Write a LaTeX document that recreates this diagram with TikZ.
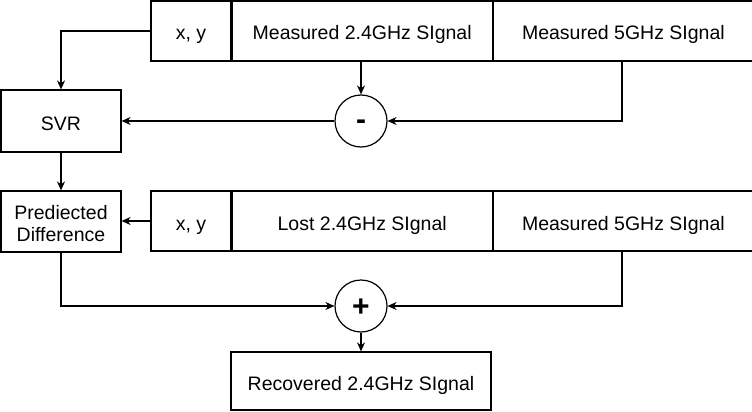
\documentclass[tikz,border=0pt]{standalone}
\usepackage{fontspec}
\setmainfont{Liberation Sans}
\usepackage{tikz}
\usetikzlibrary{positioning, arrows.meta}

\begin{document}
\begin{tikzpicture}[x=1pt, y=-1pt]
  \tikzstyle{block}=[draw, line width=1.2pt, minimum height=60pt, inner sep=0pt, align=center,
  text height=18pt, text depth=0pt]
  \tikzstyle{field}=[block, minimum width=260pt]
  \tikzstyle{coord}=[block, minimum width=80pt]
  \tikzstyle{op}=[circle, draw, line width=1.2pt, minimum size=52pt, inner sep=0pt,
  text height=0pt, text depth=0pt, font=\fontsize{30}{30}\selectfont\bfseries]
  \tikzstyle{flow}=[-{Stealth[length=9pt, width=8pt]}, line width=1.2pt]

  \useasboundingbox (0,0) rectangle (752,412);

  \begin{scope}[font=\fontsize{19.5}{22.5}\selectfont]
    % measured row
    \node (xy1) at (191,31) [coord] {x, y};
    \node (meas24) [field, right=0pt of xy1] {Measured 2.4GHz SIgnal};
    \node (meas5) [field, right=0pt of meas24] {Measured 5GHz SIgnal};

    \node (svr) at (61,121) [block, minimum width=120pt, minimum height=62pt] {SVR};
    \node (minus) at (361,121) [op] {\raisebox{-0.28em}{-}};

    % lost row
    \node (xy2) at (191,221) [coord] {x, y};
    \node (lost) [field, right=0pt of xy2] {Lost 2.4GHz SIgnal};
    \node (meas5b) [field, right=0pt of lost] {Measured 5GHz SIgnal};

    \node (diff) at (61,221.5) [block, minimum width=120pt, minimum height=61pt,
    text height=40.5pt] {Prediected\\Difference};
    \node (plus) at (361,306) [op] {\raisebox{-0.35em}{+}};
    \node (rec) at (361,381) [field, minimum height=58pt] {Recovered 2.4GHz SIgnal};
  \end{scope}

  \draw[flow] (xy1.west) -| (svr.north);
  \draw[flow] (meas24.south -| minus) -- (minus.north);
  \draw[flow] (meas5.south -| 622,0) |- (minus.east);
  \draw[flow] (minus.west) -- (svr.east);
  \draw[flow] (svr.south) -- (diff.north);
  \draw[flow] (xy2.west) -- (xy2.west -| diff.east);
  \draw[flow] (diff.south) |- (plus.west);
  \draw[flow] (meas5b.south -| 622,0) |- (plus.east);
  \draw[flow] (plus.south) -- (rec.north);
\end{tikzpicture}
\end{document}
